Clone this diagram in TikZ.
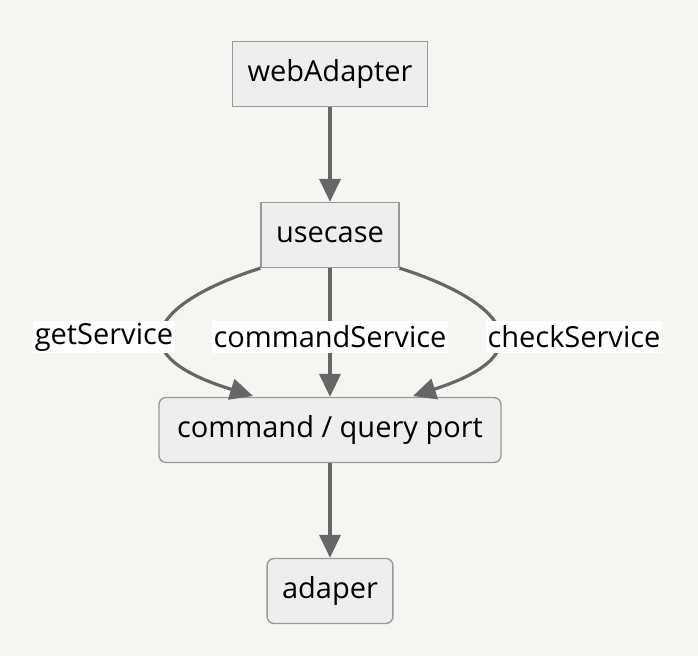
\documentclass[tikz,border=0pt]{standalone}
\usepackage{fontspec}
\setmainfont{Open Sans}
\usetikzlibrary{arrows.meta}
\definecolor{bgcol}{HTML}{F6F5F2}
\definecolor{boxfill}{HTML}{EEEEEE}
\definecolor{boxline}{HTML}{999999}
\definecolor{edgecol}{HTML}{666666}
\begin{document}
\begin{tikzpicture}[
    x=0.02cm, y=-0.02cm,
    every node/.style={font=\fontsize{16.5}{19}\selectfont},
    box/.style={rectangle, draw=boxline, fill=boxfill, line width=0.8pt, minimum height=1.3cm, inner xsep=0.3cm},
    rbox/.style={box, rounded corners=4pt},
    lbl/.style={fill=white, inner sep=1pt, minimum height=0.64cm},
    edge/.style={draw=edgecol, line width=1.8pt, -{Triangle[length=13pt, width=12pt]}}
  ]
  \fill[bgcol] (0,0) rectangle (698,656);
  \useasboundingbox (0,0) rectangle (698,656);

  \node[box, minimum width=3.9cm] (web) at (330,74) {webAdapter};
  \node[box, minimum width=2.72cm] (usecase) at (330,235) {usecase};
  \node[rbox, minimum width=6.84cm] (port) at (330,430) {command / query port};
  \node[rbox, minimum width=2.48cm] (adaper) at (330,591) {adaper};

  \coordinate (portL) at (253,396);
  \coordinate (portR) at (413,396);

  \draw[edge] (web) -- (usecase);
  \draw[edge] (usecase.south west) .. controls (160,300) and (110,352) .. (portL);
  \draw[edge] (usecase) -- (port);
  \draw[edge] (usecase.south east) .. controls (500,300) and (550,352) .. (portR);
  \draw[edge] (port) -- (adaper);

  \node[lbl] (getlbl) at (104,337) {getService};
  \node[lbl] (cmdlbl) at (330,337) {commandService};
  \node[lbl] (chklbl) at (574,337) {checkService};
\end{tikzpicture}
\end{document}
